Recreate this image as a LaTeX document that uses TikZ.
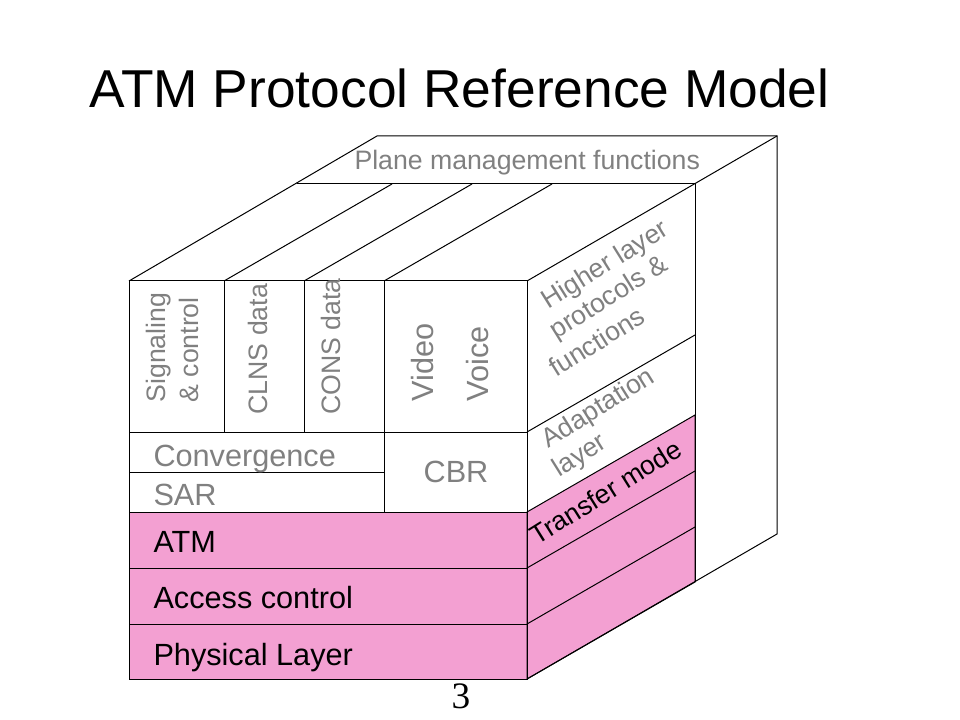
\documentclass[tikz,border=0pt]{standalone}
\usepackage{fontspec}
\setmainfont{Liberation Sans}
\newfontfamily\slidenumfont{Liberation Serif}
\usepackage{tikz}

\definecolor{atmpink}{RGB}{243,160,210}
\definecolor{labelgrey}{RGB}{128,128,128}

\begin{document}
\begin{tikzpicture}[x=0.75pt,y=0.75pt,yscale=-1,xscale=1,line width=0.75pt,
  greylabel/.style={inner sep=0pt,text=labelgrey,font=\fontsize{20}{24}\selectfont},
  biggrey/.style={inner sep=0pt,text=labelgrey,font=\fontsize{23}{28}\selectfont},
  layerlabel/.style={inner sep=0pt,text=black,font=\fontsize{23}{28}\selectfont}]
\useasboundingbox (0,0) rectangle (960,720);

%Shape: pink lower layers, front and side
\draw [fill=atmpink] (129,512) rectangle (527,679) ;
\draw [fill=atmpink] (527,512) -- (695,415) -- (695,582) -- (527,679) -- cycle ;

%Shape: front face
\draw    (129,281) rectangle (527,679) ;
%Straight Lines
\draw    (129,432) -- (527,432) ;
\draw    (129,472) -- (384,472) ;
\draw    (129,512) -- (527,512) ;
\draw    (129,568) -- (527,568) ;
\draw    (129,624) -- (527,624) ;
\draw    (224,281) -- (224,432) ;
\draw    (304,281) -- (304,432) ;
\draw    (384,281) -- (384,512) ;

%Straight Lines: top face and plane management slab
\draw    (129,281) -- (377,136) -- (777,136) -- (777,534) -- (527,679) ;
\draw    (527,281) -- (777,136) ;
\draw    (297,184) -- (695,184) -- (695,582) ;
\draw    (224,281) -- (392,184) ;
\draw    (304,281) -- (472,184) ;
\draw    (384,281) -- (552,184) ;

%Straight Lines: side face
\draw    (527,432) -- (695,335) ;
\draw    (527,568) -- (695,471) ;
\draw    (527,624) -- (695,527) ;

% Text Node
\node (title) at (89,108) [anchor=base west,inner sep=0pt,font=\fontsize{40}{48}\selectfont] {ATM Protocol Reference Model};
% Text Node
\node (plane) at (354,170) [anchor=base west,greylabel] {Plane management functions};
% Text Node
\node (sig) at (165,403) [anchor=base west,rotate=90,greylabel] {Signaling};
\node (ctrl) at (198,403) [anchor=base west,rotate=90,greylabel] {\& control};
% Text Node
\node (clns) at (267,415) [anchor=base west,rotate=90,greylabel] {CLNS data};
% Text Node
\node (cons) at (340,415) [anchor=base west,rotate=90,greylabel] {CONS data};
% Text Node
\node (video) at (433,402) [anchor=base west,rotate=90,biggrey] {Video};
\node (voice) at (488,402) [anchor=base west,rotate=90,biggrey] {Voice};
% Text Node
\node (conv) at (153,466) [anchor=base west,biggrey] {Convergence};
\node (sar) at (153,505) [anchor=base west,biggrey] {SAR};
\node (cbr) at (456,472) [biggrey] {CBR};
% Text Node
\node (atm) at (153,552) [anchor=base west,layerlabel] {ATM};
\node (access) at (153,608) [anchor=base west,layerlabel] {Access control};
\node (phys) at (153,665) [anchor=base west,layerlabel] {Physical Layer};
% Text Node
\node (higher) at (548,310) [anchor=base west,rotate=32,greylabel] {Higher layer};
\node (protocols) at (556,340) [anchor=base west,rotate=32,greylabel] {protocols \&};
\node (functions) at (556,378) [anchor=base west,rotate=32,greylabel] {functions};
% Text Node
\node (adapt) at (548,449) [anchor=base west,rotate=32,greylabel] {Adaptation};
\node (adaptlayer) at (559,478) [anchor=base west,rotate=32,greylabel] {layer};
% Text Node
\node (transfer) at (537,546) [anchor=base west,rotate=32,inner sep=0pt,font=\fontsize{20}{24}\selectfont] {Transfer mode};
% Text Node
\node (slidenum) at (461,696) [inner sep=0pt,font=\slidenumfont\fontsize{28}{32}\selectfont] {3};

\end{tikzpicture}
\end{document}
